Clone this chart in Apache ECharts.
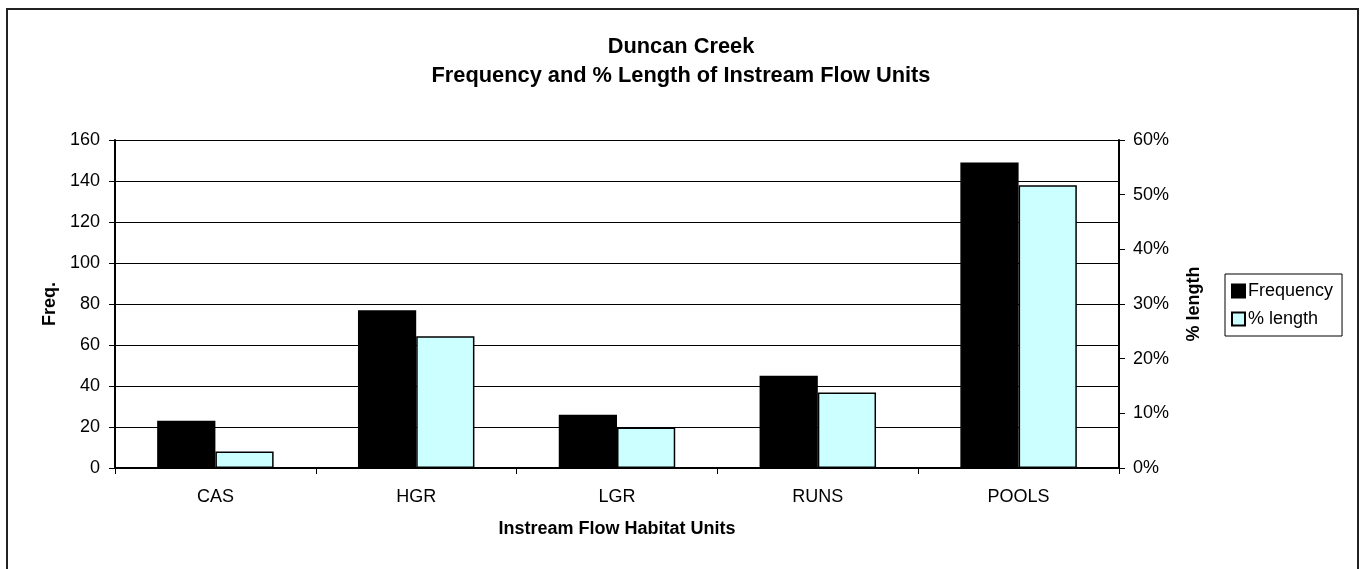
<!DOCTYPE html>
<html>
<head>
<meta charset="utf-8">
<script src="https://cdn.jsdelivr.net/npm/echarts@6/dist/echarts.min.js"></script>
<style>
  html, body { margin: 0; padding: 0; background: #fff; }
  #chart { width: 1361px; height: 569px; }
</style>
</head>
<body>
<div id="chart"></div>
<script>
// Habitat unit categories along the x axis
const categories = ['CAS', 'HGR', 'LGR', 'RUNS', 'POOLS'];
// Number of units per habitat type (left axis)
const frequency = [23, 77, 26, 45, 149];
// Share of stream length per habitat type, in percent (right axis)
const pctLength = [3.0, 24.1, 7.4, 13.8, 51.7];
// Axis tick settings
const freqTicks = { min: 0, max: 160, interval: 20 };
const pctTicks = { min: 0, max: 60, interval: 10 };

const FONT = '"Liberation Sans", Arial, sans-serif';

const chart = echarts.init(document.getElementById('chart'), null, { renderer: 'canvas' });

chart.setOption({
  animation: false,
  backgroundColor: '#fff',
  textStyle: { fontFamily: FONT, color: '#000' },
  title: {
    text: 'Duncan Creek\nFrequency and % Length of Instream Flow Units',
    left: 676,
    top: 27,
    textAlign: 'center',
    textStyle: { fontFamily: FONT, fontSize: 21.8, fontWeight: 'bold', color: '#000', lineHeight: 29 }
  },
  graphic: [{
    type: 'rect',
    shape: { x: 7, y: 9, width: 1351, height: 700 },
    style: { fill: 'none', stroke: '#222', lineWidth: 2 },
    silent: true
  }],
  legend: {
    orient: 'vertical',
    left: 1225,
    top: 274,
    itemWidth: 13,
    itemHeight: 13,
    itemGap: 10,
    padding: [8, 9, 8, 6],
    borderColor: '#000',
    borderWidth: 1,
    textStyle: { fontFamily: FONT, fontSize: 18, color: '#000', padding: [0, 0, 0, -2] },
    data: [
      { name: 'Frequency', icon: 'rect' },
      { name: '% length', icon: 'rect' }
    ]
  },
  grid: { left: 115, right: 242, top: 140, bottom: 101, containLabel: false },
  xAxis: {
    type: 'category',
    data: categories,
    name: 'Instream Flow Habitat Units',
    nameLocation: 'middle',
    nameGap: 52,
    nameTextStyle: { fontFamily: FONT, fontSize: 18, fontWeight: 'bold', color: '#000' },
    axisLine: { lineStyle: { color: '#000', width: 2 } },
    axisTick: { show: true, length: 6, lineStyle: { color: '#000' } },
    axisLabel: { fontFamily: FONT, fontSize: 18, color: '#000', margin: 20 }
  },
  yAxis: [{
    type: 'value',
    min: freqTicks.min,
    max: freqTicks.max,
    interval: freqTicks.interval,
    name: 'Freq.',
    nameLocation: 'middle',
    nameGap: 55,
    nameTextStyle: { fontFamily: FONT, fontSize: 18, fontWeight: 'bold', color: '#000' },
    axisLine: { show: true, lineStyle: { color: '#000', width: 2 } },
    axisTick: { show: true, length: 6, lineStyle: { color: '#000' } },
    axisLabel: { fontFamily: FONT, fontSize: 18, color: '#000', margin: 15 },
    splitLine: { show: true, lineStyle: { color: '#000', width: 1 } }
  }, {
    type: 'value',
    position: 'right',
    min: pctTicks.min,
    max: pctTicks.max,
    interval: pctTicks.interval,
    name: '% length',
    nameLocation: 'middle',
    nameGap: 66,
    nameTextStyle: { fontFamily: FONT, fontSize: 18, fontWeight: 'bold', color: '#000' },
    axisLine: { show: true, lineStyle: { color: '#000', width: 2 } },
    axisTick: { show: true, length: 6, lineStyle: { color: '#000' } },
    axisLabel: { fontFamily: FONT, fontSize: 18, color: '#000', margin: 14, formatter: '{value}%' },
    splitLine: { show: false }
  }],
  series: [{
    name: 'Frequency',
    type: 'bar',
    yAxisIndex: 0,
    data: frequency,
    barGap: '0%',
    barCategoryGap: '42%',
    itemStyle: { color: '#000', borderColor: '#000', borderWidth: 1.5 }
  }, {
    name: '% length',
    type: 'bar',
    yAxisIndex: 1,
    data: pctLength,
    barGap: '0%',
    barCategoryGap: '42%',
    itemStyle: { color: '#CCFFFF', borderColor: '#000', borderWidth: 1.5 }
  }]
});
</script>
</body>
</html>
